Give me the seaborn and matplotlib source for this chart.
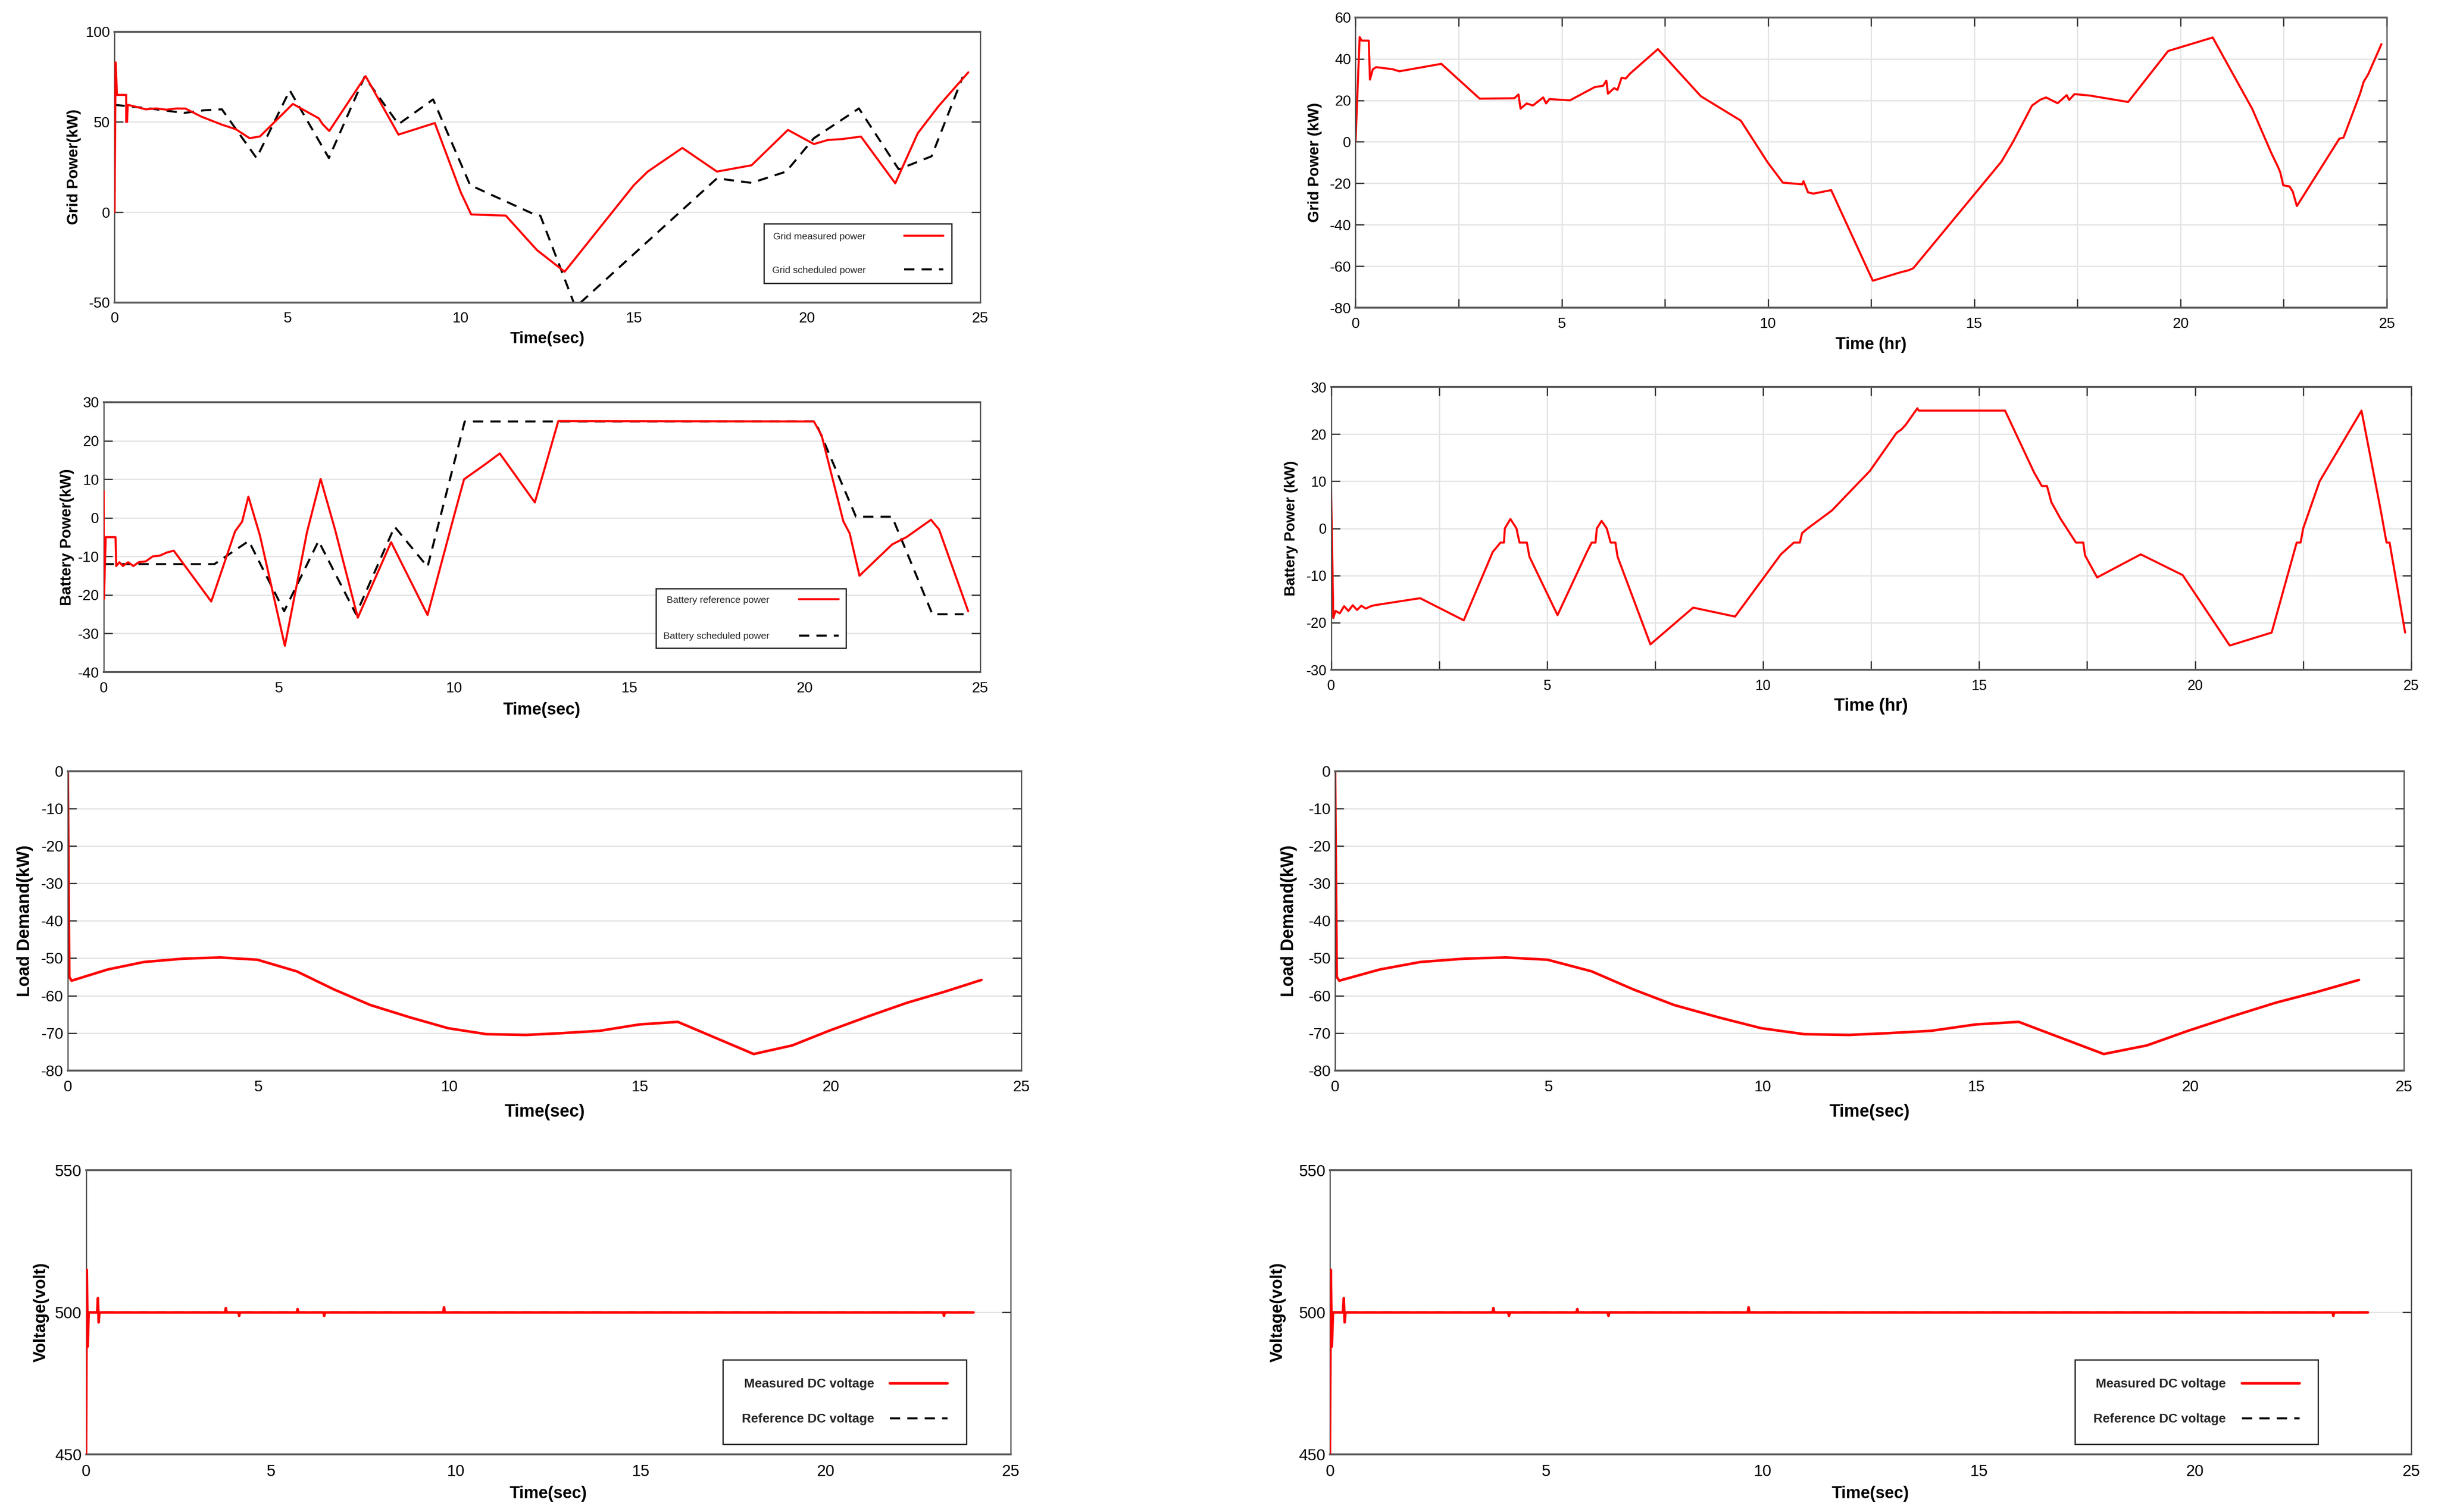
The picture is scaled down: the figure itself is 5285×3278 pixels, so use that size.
import matplotlib
matplotlib.use("Agg")
import numpy as np
import pandas as pd
import matplotlib.pyplot as plt
import seaborn as sns
from matplotlib.ticker import FixedLocator, MultipleLocator
from matplotlib import font_manager

# ---------------------------------------------------------------- data
# Panel 1 (top-left): grid power, time in sec
grid_meas_t = [0, 0.03, 0.07, 0.20, 0.335, 0.335, 0.36, 0.38, 0.6, 0.9, 1.2, 1.5, 1.8, 2.05,
               2.5, 3.1, 3.5, 3.9, 4.2, 5.15, 5.9, 6.0, 6.2, 7.25, 8.2, 9.25, 10.0, 10.3,
               11.3, 12.2, 13.0, 15.0, 15.4, 16.4, 17.4, 18.4, 19.45, 20.2, 20.6, 21.0,
               21.56, 22.55, 23.2, 23.8, 24.66]
grid_meas_p = [0, 83, 65, 65, 65, 50, 50, 59.5, 58.5, 57, 57.5, 56.8, 57.5, 57.4,
               53, 48.5, 46, 41, 42, 60, 52, 49, 45, 75.4, 43, 49.4, 11, -1.25,
               -1.9, -21, -33, 15, 22.5, 35.6, 22.5, 26, 45.6, 37.75, 40, 40.5,
               41.9, 16, 43.75, 58.75, 77.5]
grid_sched_t = [0, 1.0, 2.0, 2.6, 3.1, 4.1, 5.06, 6.19, 7.22, 8.2, 9.2, 10.27, 12.1, 12.3,
                13.3, 13.35, 17.4, 18.4, 19.4, 20.2, 21.5, 22.65, 23.6, 24.5]
grid_sched_p = [59.5, 57.5, 55, 56.5, 57, 30, 67.5, 30, 75, 48.75, 62.5, 15, -1, -2,
                -52, -52, 18.75, 16.25, 22.5, 41, 57.5, 23.75, 31, 75]

# Panel 2 (top-right): grid power, time in hr
grid2_t = [0, 0.1, 0.15, 0.32, 0.35, 0.42, 0.5, 0.9, 1.06, 2.08, 3.01, 3.85, 3.95, 4.0,
           4.15, 4.3, 4.55, 4.62, 4.7, 5.2, 5.8, 6.0, 6.08, 6.12, 6.27, 6.35, 6.45,
           6.55, 6.65, 7.33, 8.37, 9.34, 9.99, 10.36, 10.83, 10.86, 10.97, 11.1, 11.53,
           12.54, 13.2, 13.4, 13.52, 15.66, 15.94, 16.4, 16.6, 16.74, 17.02, 17.24,
           17.3, 17.43, 17.8, 18.73, 19.7, 20.78, 21.74, 22.2, 22.36, 22.42, 22.49,
           22.64, 22.72, 22.82, 23.85, 23.95, 24.35, 24.44, 24.55, 24.87]
grid2_p = [0, 50.5, 48.8, 48.8, 30, 35, 36, 35, 34, 37.6, 20.8, 21, 22.8, 16,
           18.5, 17.5, 21.4, 18.5, 20.6, 20, 26.4, 27, 29.5, 23.2, 25.9, 25, 30.9,
           30.5, 32.8, 44.7, 22, 10.2, -9.9, -19.7, -20.5, -19, -24.4, -25, -23.3,
           -67, -63, -62, -61, -9.5, 0, 17.5, 20.3, 21.4, 18.6, 22.5,
           20.2, 23, 22.3, 19.2, 43.8, 50.3, 15.8, -5.4, -12, -14.9, -21,
           -21.5, -24, -31, 1.5, 2, 23.1, 29, 32.6, 47.1]

# Panel 3 (second row left): battery power, time in sec
batt_ref_t = [0, 0.01, 0.06, 0.34, 0.36, 0.45, 0.55, 0.7, 0.85, 1.0, 1.2, 1.4, 1.6, 1.8,
              2.0, 3.07, 3.75, 3.95, 4.13, 4.46, 5.17, 5.8, 6.19, 6.6, 7.25, 8.2, 9.24,
              9.98, 10.28, 10.87, 11.3, 12.3, 12.97, 20.26, 20.48, 21.1, 21.28, 21.56,
              22.49, 22.9, 23.6, 23.83, 24.66]
batt_ref_p = [7, -21, -5, -5, -12.5, -11.5, -12.5, -11.5, -12.5, -11.5, -11.3, -10, -9.8, -9,
              -8.5, -21.7, -3.5, -1, 5.5, -4.6, -33.2, -3.75, 10.1, -3, -25.9, -6.3, -25.2,
              0, 10, 13.8, 16.7, 4, 25.1, 25, 21.4, -0.9, -4, -15,
              -6.9, -5, -0.5, -3, -24.2]
batt_sched_t = [0, 3.16, 4.14, 5.15, 6.13, 7.2, 8.3, 9.24, 10.3, 20.3, 21.46, 22.49, 23.64, 24.53]
batt_sched_p = [-12, -12, -6, -24.2, -6, -25, -2.3, -12.7, 25, 25, 0.3, 0.3, -25, -25]

# Panel 4 (second row right): battery power, time in hr
batt2_t = [0, 0.05, 0.1, 0.2, 0.3, 0.4, 0.5, 0.6, 0.7, 0.8, 0.92, 1.0, 2.06, 3.07, 3.74,
           3.92, 4.0, 4.02, 4.15, 4.29, 4.36, 4.53, 4.59, 5.24, 5.91, 6.03, 6.12, 6.15,
           6.26, 6.38, 6.47, 6.58, 6.63, 7.39, 8.38, 9.35, 10.41, 10.71, 10.85, 10.9,
           11.03, 11.59, 12.47, 13.09, 13.2, 13.3, 13.57, 13.6, 15.6, 16.27, 16.45,
           16.57, 16.67, 16.88, 17.24, 17.41, 17.45, 17.73, 18.74, 19.71, 20.8, 21.77,
           22.35, 22.44, 22.5, 22.88, 23.85, 24.29, 24.43, 24.5, 24.86]
batt2_p = [8, -19, -17.5, -18, -16.5, -17.5, -16.3, -17.3, -16.4, -17, -16.5, -16.3, -14.8,
           -19.5, -5, -3, -3, 0, 2, 0, -3, -3, -6, -18.4, -5.2, -3, -3, 0,
           1.6, 0, -3, -3, -6, -24.6, -16.8, -18.7, -5.5, -3, -3, -1,
           0, 3.8, 12.2, 20.3, 21, 22, 25.5, 25, 25, 11.9, 9,
           9, 5.6, 2.1, -3, -3, -5.7, -10.4, -5.5, -9.9, -24.85, -22.1,
           -3, -3, 0, 10, 25, 4.1, -3, -3, -22.1]

# Panels 5/6: load demand
load_t = [0, 0.04, 0.1, 1.05, 2.0, 3.05, 4.0, 4.97, 6.0, 6.97, 7.93, 8.97, 9.97, 10.98,
          12.02, 12.98, 13.94, 14.98, 15.99, 17.98, 18.99, 19.95, 20.99, 22.0, 23.0, 23.95]
load_p = [0, -55, -56, -53, -51, -50.1, -49.8, -50.4, -53.5, -58.3, -62.5, -65.8, -68.7, -70.3,
          -70.5, -70, -69.4, -67.7, -67, -75.6, -73.3, -69.4, -65.5, -61.9, -58.9, -55.8]

# Panels 7/8: DC voltage
volt_t = [0, 0.02, 0.045, 0.07, 0.30, 0.32, 0.34, 0.36, 3.76, 3.78, 3.80, 4.12, 4.14, 4.16,
          5.70, 5.72, 5.74, 6.42, 6.44, 6.46, 9.66, 9.68, 9.70, 23.18, 23.20, 23.22, 24.0]
volt_meas = [450, 515, 488, 500, 500, 505, 496.5, 500, 500, 501.5, 500, 500, 498.8, 500,
             500, 501.2, 500, 500, 498.8, 500, 500, 501.8, 500, 500, 498.8, 500, 500]
volt_ref_t = [0, 24.0]
volt_ref = [500, 500]

x_ticks_sec = [0, 5, 10, 15, 20, 25]
sparse_grid_x = [10, 15]

# ---------------------------------------------------------------- style
sns.set_theme(style="white")
names = {f.name for f in font_manager.fontManager.ttflist}
BASE = "Liberation Sans" if "Liberation Sans" in names else "DejaVu Sans"
plt.rcParams["font.family"] = [BASE, "DejaVu Sans"]
plt.rcParams["axes.unicode_minus"] = False

FIG_W, FIG_H, DPI = 5285, 3278, 100
RED, BLACK = "#ff0000", "#000000"
GRID_C, GRID_LW = "#e4e4e4", 2.0
TICK_C, TICK_LEN, TICK_W = "#333333", 14, 2.0
DASH = (0, (5, 3.5))

fig = plt.figure(figsize=(FIG_W / DPI, FIG_H / DPI), dpi=DPI)
fig.patch.set_facecolor("white")


def new_axes(rect):
    l, b, r, t = rect
    return fig.add_axes([l, b, r - l, t - b])


def draw(ax, t, v, color, lw, dashed=False, z=2):
    df = pd.DataFrame({"t": t, "v": v})
    kw = {"linestyle": DASH} if dashed else {}
    sns.lineplot(data=df, x="t", y="v", ax=ax, color=color, linewidth=lw,
                 estimator=None, sort=False, legend=False, zorder=z, **kw)
    return ax.get_lines()[-1]


def style(ax, rect, ylim, ystep, xmode, tick_fs, ylab, ylab_fs, ylab_off,
          xlab, xlab_fs, xlab_off):
    l, b, r, t = rect
    ax_w, ax_h = (r - l) * FIG_W, (t - b) * FIG_H
    ax.set_xlim(0, 25)
    ax.set_ylim(*ylim)
    ax.xaxis.set_major_locator(FixedLocator(x_ticks_sec))
    ax.yaxis.set_major_locator(MultipleLocator(ystep))
    if xmode == "sparse":
        ax.xaxis.set_minor_locator(FixedLocator(sparse_grid_x))
        ax.tick_params(axis="x", which="major", length=0)
        ax.grid(True, axis="x", which="minor", color=GRID_C, lw=GRID_LW)
    else:
        ax.xaxis.set_minor_locator(MultipleLocator(2.5))
        ax.tick_params(axis="x", which="major", length=TICK_LEN, width=TICK_W,
                       color=TICK_C, direction="in", top=True, bottom=True)
        ax.grid(True, axis="x", which="both", color=GRID_C, lw=GRID_LW)
    ax.tick_params(axis="x", which="minor", length=TICK_LEN, width=TICK_W,
                   color=TICK_C, direction="in", top=True, bottom=True)
    ax.tick_params(axis="x", which="major", labelsize=tick_fs, pad=15,
                   labelcolor="black")
    ax.grid(True, axis="y", which="major", color=GRID_C, lw=GRID_LW)
    ax.tick_params(axis="y", which="major", direction="in", left=True, right=True,
                   length=TICK_LEN, width=TICK_W, color=TICK_C,
                   labelsize=tick_fs, pad=7, labelcolor="black")
    ax.set_axisbelow(True)
    for s in ("top", "bottom"):
        ax.spines[s].set(color="#5a5a5a", linewidth=3.0)
    for s in ("left", "right"):
        ax.spines[s].set(color="#444444", linewidth=1.8)
    ax.set_ylabel(ylab, fontsize=ylab_fs, fontweight="bold", color="black")
    ax.yaxis.set_label_coords(-ylab_off / ax_w, 0.5)
    ax.set_xlabel(xlab, fontsize=xlab_fs, fontweight="bold", color="black")
    ax.xaxis.set_label_coords(0.5, -xlab_off / ax_h)
    ax.set_facecolor("white")


def legend(ax, handles, labels, anchor, fs, bold, bpad, lspace, hlen, htpad):
    leg = ax.legend(handles, labels, loc="upper left", bbox_to_anchor=anchor,
                    borderaxespad=0, markerfirst=False, frameon=True, fancybox=False,
                    framealpha=1, borderpad=bpad, labelspacing=lspace,
                    handlelength=hlen, handletextpad=htpad,
                    prop={"size": fs, "weight": "bold" if bold else "normal"})
    fr = leg.get_frame()
    fr.set_edgecolor("#222222")
    fr.set_linewidth(2.0)
    return leg


# ---------------------------------------------------------------- panels
R_TL = (0.047, 0.800, 0.402, 0.979)
R_TR = (0.556, 0.7965, 0.979, 0.9885)
R_ML = (0.0425, 0.5555, 0.402, 0.734)
R_MR = (0.546, 0.557, 0.989, 0.744)
R_3L = (0.0278, 0.292, 0.419, 0.490)
R_3R = (0.5476, 0.292, 0.986, 0.490)
R_4L = (0.0353, 0.038, 0.4145, 0.226)
R_4R = (0.5455, 0.038, 0.989, 0.226)

# 1 grid power (sec)
ax = new_axes(R_TL)
h1 = draw(ax, grid_meas_t, grid_meas_p, RED, 3.2, z=3)
h2 = draw(ax, grid_sched_t, grid_sched_p, BLACK, 3.2, dashed=True, z=2)
style(ax, R_TL, (-50, 100), 50, "sparse", 23, "Grid Power(kW)", 24, 72,
      "Time(sec)", 25, 62)
legend(ax, [h1, h2], ["Grid measured power", "Grid scheduled power"], (0.75, 0.29),
       15, False, 0.87, 2.6, 4.1, 4.0)

# 2 grid power (hr)
ax = new_axes(R_TR)
draw(ax, grid2_t, grid2_p, RED, 3.2)
style(ax, R_TR, (-80, 60), 20, "dense", 23, "Grid Power (kW)", 24, 72,
      "Time (hr)", 26, 63)

# 3 battery power (sec)
ax = new_axes(R_ML)
h1 = draw(ax, batt_ref_t, batt_ref_p, RED, 3.2, z=3)
h2 = draw(ax, batt_sched_t, batt_sched_p, BLACK, 3.2, dashed=True, z=2)
style(ax, R_ML, (-40, 30), 10, "sparse", 23, "Battery Power(kW)", 24, 64,
      "Time(sec)", 26, 65)
legend(ax, [h1, h2], ["Battery reference power", "Battery scheduled power"],
       (0.63, 0.31), 15, False, 0.77, 2.84, 4.1, 3.1)

# 4 battery power (hr)
ax = new_axes(R_MR)
draw(ax, batt2_t, batt2_p, RED, 3.2)
style(ax, R_MR, (-30, 30), 10, "dense", 22, "Battery Power (kW)", 23, 72,
      "Time (hr)", 27, 61)

# 5/6 load demand
for rect, yoff in ((R_3L, 75), (R_3R, 82)):
    ax = new_axes(rect)
    draw(ax, load_t, load_p, RED, 4.0)
    style(ax, rect, (-80, 0), 10, "sparse", 24, "Load Demand(kW)", 27, yoff,
          "Time(sec)", 27, 72)

# 7/8 DC voltage
for rect, yoff in ((R_4L, 80), (R_4R, 95)):
    ax = new_axes(rect)
    h2 = draw(ax, volt_ref_t, volt_ref, BLACK, 3.2, dashed=True, z=2)
    h1 = draw(ax, volt_t, volt_meas, RED, 4.0, z=3)
    style(ax, rect, (450, 550), 50, "sparse", 25, "Voltage(volt)", 26, yoff,
          "Time(sec)", 26, 68)
    legend(ax, [h1, h2], ["Measured DC voltage", "Reference DC voltage"],
           (0.689, 0.333), 20, True, 1.45, 1.8, 4.5, 1.25)

fig.savefig("out.png", dpi=DPI, facecolor="white")
